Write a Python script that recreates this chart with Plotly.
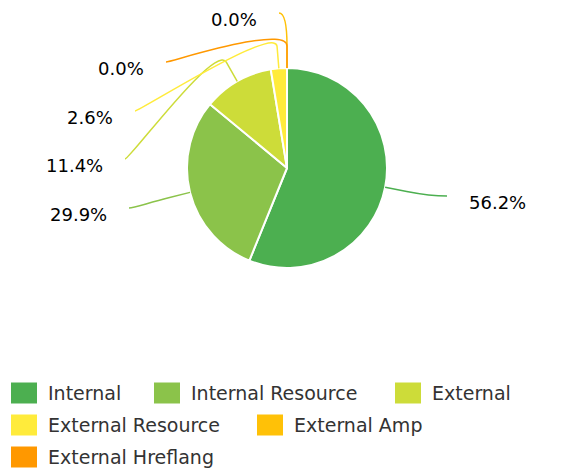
import math
import plotly.graph_objects as go

# ---- data ----
categories = ["Internal", "Internal Resource", "External", "External Resource",
              "External Amp", "External Hreflang"]
values = [56.2, 29.9, 11.4, 2.6, 0.0, 0.0]
colors = ["#4CAF50", "#8BC34A", "#CDDC39", "#FFEB3B", "#FFC107", "#FF9800"]

# ---- layout constants (screen pixels) ----
OFF = 8                      # page body margin
W, H = 576, 472              # window size
FW, FH = W - OFF, H - OFF    # figure size
CX, CY, R = 287, 168, 100
BREAK = 22  # radial distance of connector break point
# end point of each connector line (where the label sits)
label_end = [(447, 196), (129, 208), (125, 159), (135, 111), (279, 13), (166, 62)]
label_side = ["left", "right", "right", "right", "right", "right"]

fig = go.Figure()
fig.add_trace(go.Pie(
    labels=categories, values=values, sort=False, direction="clockwise",
    rotation=0, textinfo="none", hoverinfo="label+percent", showlegend=False,
    marker=dict(colors=colors, line=dict(color="#FFFFFF", width=2)),
    domain=dict(x=[(CX - R - OFF) / FW, (CX + R - OFF) / FW],
                y=[(FH - (CY + R - OFF)) / FH, (FH - (CY - R - OFF)) / FH]),
))

fig.add_trace(go.Scatter(x=[OFF, W], y=[OFF, H], mode="markers", marker=dict(opacity=0),
                         hoverinfo="skip", showlegend=False))

total = sum(values)
shapes = []
annotations = []
cum = 0.0
for i, v in enumerate(values):
    mid = (cum + v / 2) / total * 2 * math.pi
    cum += v
    dx, dy = math.sin(mid), -math.cos(mid)
    tx, ty = CX + R * dx, CY + R * dy
    bx, by = tx + BREAK * dx, ty + BREAK * dy
    c2x, c2y = 2 * bx - tx, 2 * by - ty
    lx, ly = label_end[i]
    c1x = lx + (-5 if label_side[i] == "left" else 5)
    path = (f"M {lx},{ly} C {c1x},{ly} {c2x:.2f},{c2y:.2f} {bx:.2f},{by:.2f} "
            f"L {tx:.2f},{ty:.2f}")
    shapes.append(dict(type="path", path=path, xref="x", yref="y",
                       line=dict(color=colors[i], width=1.5), layer="above"))
    if label_side[i] == "left":
        ax, anchor = lx + 20, "left"
    else:
        ax, anchor = lx - 20, "right"
    annotations.append(dict(x=ax, y=ly + 6, xref="x", yref="y", text=f"{v:.1f}%",
                            showarrow=False, xanchor=anchor, yanchor="middle",
                            font=dict(family="DejaVu Sans", size=18, color="#000000")))

# ---- custom legend ----
legend_pos = [(11, 393), (154, 393), (395, 393), (11, 425), (257, 425), (11, 457)]
for i, name in enumerate(categories):
    x0, yc = legend_pos[i]
    shapes.append(dict(type="rect", xref="x", yref="y", x0=x0, x1=x0 + 26,
                       y0=yc - 10.5, y1=yc + 10.5, fillcolor=colors[i],
                       line=dict(width=0)))
    annotations.append(dict(x=x0 + 35, y=yc, xref="x", yref="y", text=name,
                            showarrow=False, xanchor="left", yanchor="middle",
                            font=dict(family="DejaVu Sans", size=19, color="#333333")))

fig.update_layout(
    width=FW, height=FH, margin=dict(l=0, r=0, t=0, b=0),
    paper_bgcolor="#FFFFFF", plot_bgcolor="rgba(0,0,0,0)",
    xaxis=dict(range=[OFF, W], visible=False, fixedrange=True),
    yaxis=dict(range=[H, OFF], visible=False, fixedrange=True),
    shapes=shapes, annotations=annotations, showlegend=False,
)
fig.write_html("out.html")
